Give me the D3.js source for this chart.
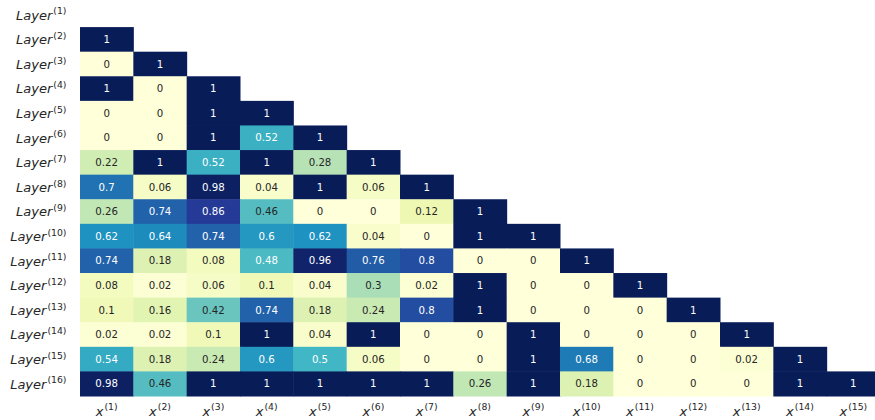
<!DOCTYPE html>
<html><head><meta charset="utf-8">
<script src="https://cdn.jsdelivr.net/npm/d3@7"></script>
<style>body{margin:0;background:#fff}svg{display:block}</style>
</head><body>
<svg id="c" width="875" height="420"></svg>
<script>
const rowLabels = d3.range(1,17).map(i=>"Layer|"+i);
const colLabels = d3.range(1,16).map(i=>"x|"+i);
const values = [
 [],
 [1],
 [0,1],
 [1,0,1],
 [0,0,1,1],
 [0,0,1,0.52,1],
 [0.22,1,0.52,1,0.28,1],
 [0.7,0.06,0.98,0.04,1,0.06,1],
 [0.26,0.74,0.86,0.46,0,0,0.12,1],
 [0.62,0.64,0.74,0.6,0.62,0.04,0,1,1],
 [0.74,0.18,0.08,0.48,0.96,0.76,0.8,0,0,1],
 [0.08,0.02,0.06,0.1,0.04,0.3,0.02,1,0,0,1],
 [0.1,0.16,0.42,0.74,0.18,0.24,0.8,1,0,0,0,1],
 [0.02,0.02,0.1,1,0.04,1,0,0,1,0,0,0,1],
 [0.54,0.18,0.24,0.6,0.5,0.06,0,0,1,0.68,0,0,0.02,1],
 [0.98,0.46,1,1,1,1,1,0.26,1,0.18,0,0,0,1,1]
];
const palette = ["#ffffd9","#edf8b1","#c7e9b4","#7fcdbb","#41b6c4","#1d91c0","#225ea8","#253494","#081d58"];

const svg = d3.select("#c");
const x = d3.scaleBand().domain(colLabels).range([80, 880]);
const y = d3.scaleBand().domain(rowLabels).range([2.5, 396]);
const color = d3.scaleLinear().domain(palette.map((_,i)=>i/(palette.length-1))).range(palette).interpolate(d3.interpolateRgb).clamp(true);

function lum(c){
  const r = d3.rgb(c);
  const f = v=>{v/=255; return v<=0.03928? v/12.92 : Math.pow((v+0.055)/1.055,2.4);};
  return 0.2126*f(r.r)+0.7152*f(r.g)+0.0722*f(r.b);
}

const cells = [];
values.forEach((row,i)=>row.forEach((v,j)=>cells.push({r:rowLabels[i], c:colLabels[j], v})));

const g = svg.append("g");
g.selectAll("rect").data(cells).join("rect")
  .attr("x", d=>x(d.c)).attr("y", d=>y(d.r))
  .attr("width", x.bandwidth()+0.5).attr("height", y.bandwidth()+0.5)
  .attr("fill", d=>color(d.v));
g.selectAll("text").data(cells).join("text")
  .attr("x", d=>x(d.c)+x.bandwidth()/2).attr("y", d=>y(d.r)+y.bandwidth()/2)
  .attr("dy","0.36em").attr("text-anchor","middle")
  .attr("font-family","DejaVu Sans").attr("font-size","10.2px")
  .attr("fill", d=> lum(color(d.v))>0.408 ? "#262626" : "#ffffff")
  .text(d=>String(d.v));

function mathLabel(sel, lab){
  const [base, idx] = lab.split("|");
  sel.append("tspan").attr("font-style","italic").text(base);
  sel.append("tspan").attr("font-size","9.3px").attr("dy","-0.55em").attr("dx","1").text("("+idx+")");
}

// y axis labels
const ya = svg.append("g").attr("font-family","DejaVu Sans").attr("font-size","13px").attr("fill","#262626");
rowLabels.forEach(l=>{
  const t = ya.append("text").attr("x",66.5).attr("y", y(l)+y.bandwidth()/2+4.8).attr("text-anchor","end");
  mathLabel(t,l);
});
// x axis labels
const xa = svg.append("g").attr("font-family","DejaVu Sans").attr("font-size","13px").attr("fill","#262626");
colLabels.forEach(l=>{
  const t = xa.append("text").attr("x", x(l)+x.bandwidth()/2).attr("y", 415.5).attr("text-anchor","middle");
  mathLabel(t,l);
});
</script>
</body></html>
